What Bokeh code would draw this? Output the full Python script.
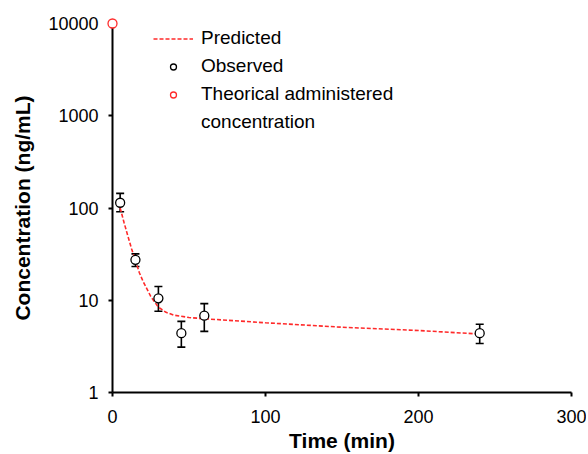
from bokeh.plotting import figure
from bokeh.models import (ColumnDataSource, Whisker, TeeHead, Range1d, FixedTicker,
                          NumeralTickFormatter, Legend, LegendItem)
from bokeh.embed import file_html
from bokeh.resources import INLINE

# Predicted curve
pred_t = [5, 7.5, 10, 12.5, 15, 17.5, 20, 25, 30, 35, 40, 50, 60, 80, 100, 150, 200, 240]
pred_c = [100, 70, 50, 36, 27, 20, 16, 11, 8.4, 7.4, 6.9, 6.5, 6.3, 6.0, 5.7, 5.1, 4.7, 4.3]

# Observed
obs_t = [5, 15, 30, 45, 60, 240]
obs_c = [114, 27.4, 10.5, 4.4, 6.8, 4.4]
obs_hi = [144, 31.8, 14.1, 5.9, 9.2, 5.5]
obs_lo = [91, 23.2, 7.6, 3.1, 4.6, 3.4]

# Theoretical administered concentration
theo_t = [0]
theo_c = [10000]

x_ticks = [0, 100, 200, 300]
y_ticks = [1, 10, 100, 1000, 10000]

FONT = "Liberation Sans"
RED = "#ff2a2a"

W, H = 586, 454
p = figure(width=W, height=H, output_backend="svg", toolbar_location=None,
           y_axis_type="log", x_range=Range1d(0, 300), y_range=Range1d(1, 10000),
           min_border_left=112, min_border_right=W - 571, min_border_top=23,
           min_border_bottom=H - 393)
p.outline_line_color = None
p.grid.visible = False

src = ColumnDataSource(dict(t=obs_t, c=obs_c, hi=obs_hi, lo=obs_lo))

line_r = p.line(pred_t, pred_c, line_color=RED, line_width=1.6, line_dash="4 2")

wh = Whisker(base="t", upper="hi", lower="lo", source=src, dimension="height",
             line_color="black", line_width=1.6, level="underlay",
             upper_head=TeeHead(size=8, line_width=1.6, line_color="black"),
             lower_head=TeeHead(size=8, line_width=1.6, line_color="black"))
p.add_layout(wh)

obs_r = p.scatter("t", "c", source=src, size=9, marker="circle", line_color="black",
                  line_width=1.3, fill_color="white")
theo_r = p.scatter(theo_t, theo_c, size=9, marker="circle", line_color=RED,
                   line_width=1.3, fill_color="white", level="overlay")
dummy_r = p.scatter([], [], size=1, line_alpha=0, fill_alpha=0)

legend = Legend(items=[
    LegendItem(label="Predicted", renderers=[line_r]),
    LegendItem(label="Observed", renderers=[obs_r]),
    LegendItem(label="Theorical administered", renderers=[theo_r]),
    LegendItem(label="concentration", renderers=[dummy_r]),
], location=(41, 259))
legend.border_line_color = None
legend.background_fill_alpha = 0
legend.padding = 0
legend.margin = 0
legend.spacing = 6
legend.glyph_width = 40
legend.glyph_height = 15
legend.label_standoff = 8
legend.label_text_font = FONT
legend.label_text_font_size = "19px"
legend.label_text_color = "black"
p.add_layout(legend)

p.xaxis.ticker = FixedTicker(ticks=x_ticks, minor_ticks=[])
p.yaxis.ticker = FixedTicker(ticks=y_ticks, minor_ticks=[])
p.yaxis.formatter = NumeralTickFormatter(format="0")

for ax in (p.xaxis, p.yaxis):
    ax.axis_line_width = 2
    ax.axis_line_color = "black"
    ax.major_tick_line_width = 2
    ax.major_tick_line_color = "black"
    ax.major_tick_in = 0
    ax.major_tick_out = 4
    ax.minor_tick_line_color = None
    ax.major_label_text_font = FONT
    ax.major_label_text_font_size = "18px"
    ax.major_label_text_color = "black"
    ax.axis_label_text_font = FONT
    ax.axis_label_text_font_size = "21px"
    ax.axis_label_text_font_style = "bold"
    ax.axis_label_text_color = "black"

p.xaxis.axis_label = "Time (min)"
p.yaxis.axis_label = "Concentration (ng/mL)"
p.xaxis.major_label_standoff = 13
p.xaxis.axis_label_standoff = 3
p.yaxis.major_label_standoff = 10
p.yaxis.axis_label_standoff = 11

open("out.html", "w").write(file_html(p, INLINE))
